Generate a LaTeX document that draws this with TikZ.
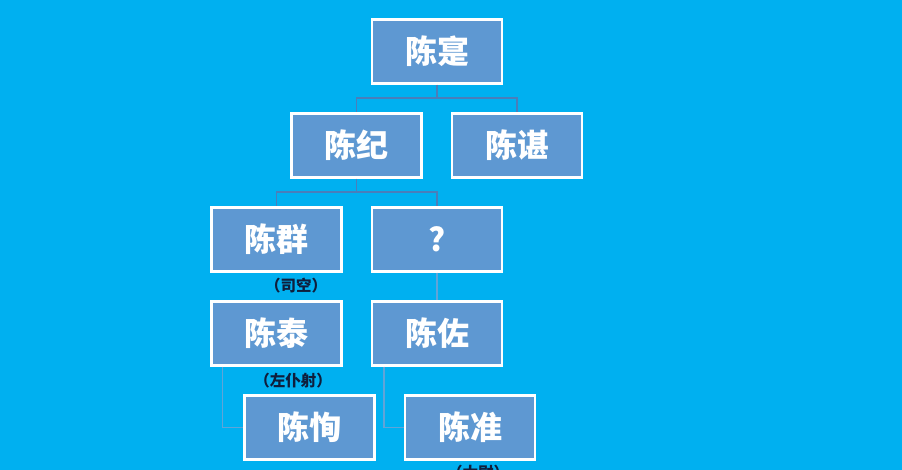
\documentclass[tikz,border=0pt]{standalone}
\usepackage{fontspec}
\newfontfamily\cjk{Noto Sans CJK SC}
\definecolor{bg}{RGB}{0,176,240}
\definecolor{boxfill}{RGB}{94,152,210}
\definecolor{linec}{RGB}{74,126,186}
\definecolor{palec}{RGB}{96,164,216}
\definecolor{labc}{RGB}{15,30,60}
\tikzset{
  person/.style={draw=white, line width=2.2pt, fill=boxfill, minimum width=130pt, minimum height=64pt, inner sep=0pt, text=white, font=\cjk\bfseries\fontsize{32}{34}\selectfont},
  title/.style={inner sep=0pt, text=labc, font=\cjk\bfseries\fontsize{15.5}{17}\selectfont},
  link/.style={draw=linec, line width=1.8pt},
  palelink/.style={draw=palec, line width=1.4pt}
}
\begin{document}
\begin{tikzpicture}[x=1pt,y=-1pt]
\fill[bg] (0,0) rectangle (902,470);
\useasboundingbox (0,0) rectangle (902,470);
\clip (0,0) rectangle (902,470);
\node[person] (shi) at (437,51.5) {陈寔};
\node[person] (ji) at (356.5,145.5) {陈纪};
\node[person] (chen) at (517,145.5) {陈谌};
\node[person] (qun) at (276.5,239.5) {陈群};
\node[person] (q) at (437,239.5) {?};
\node[person] (tai) at (276.5,333.5) {陈泰};
\node[person] (zuo) at (437,333.5) {陈佐};
\node[person] (xun) at (309.5,427.5) {陈恂};
\node[person] (zhun) at (470,427.5) {陈准};
\node[title] (t1) at (296,286) {（司空）};
\node[title] (t2) at (293,381) {（左仆射）};
\node[title] (t3) at (478,473) {（太尉）};
\coordinate (b1) at (437,98);
\coordinate (b2) at (356.5,192);
\begin{scope}[on background layer/.try]
\draw[link] (shi.south) -- (b1) -| (ji.north);
\draw[link] (b1) -| (chen.north);
\draw[link] (ji.south) -- (b2) -| (qun.north);
\draw[link] (b2) -| (q.north);
\draw[palelink] (q.south) -- (zuo.north);
\draw[palelink] ([xshift=-54pt]tai.south) |- (xun.west);
\draw[palelink] ([xshift=-53pt]zuo.south) |- (zhun.west);
\end{scope}
\end{tikzpicture}
\end{document}
